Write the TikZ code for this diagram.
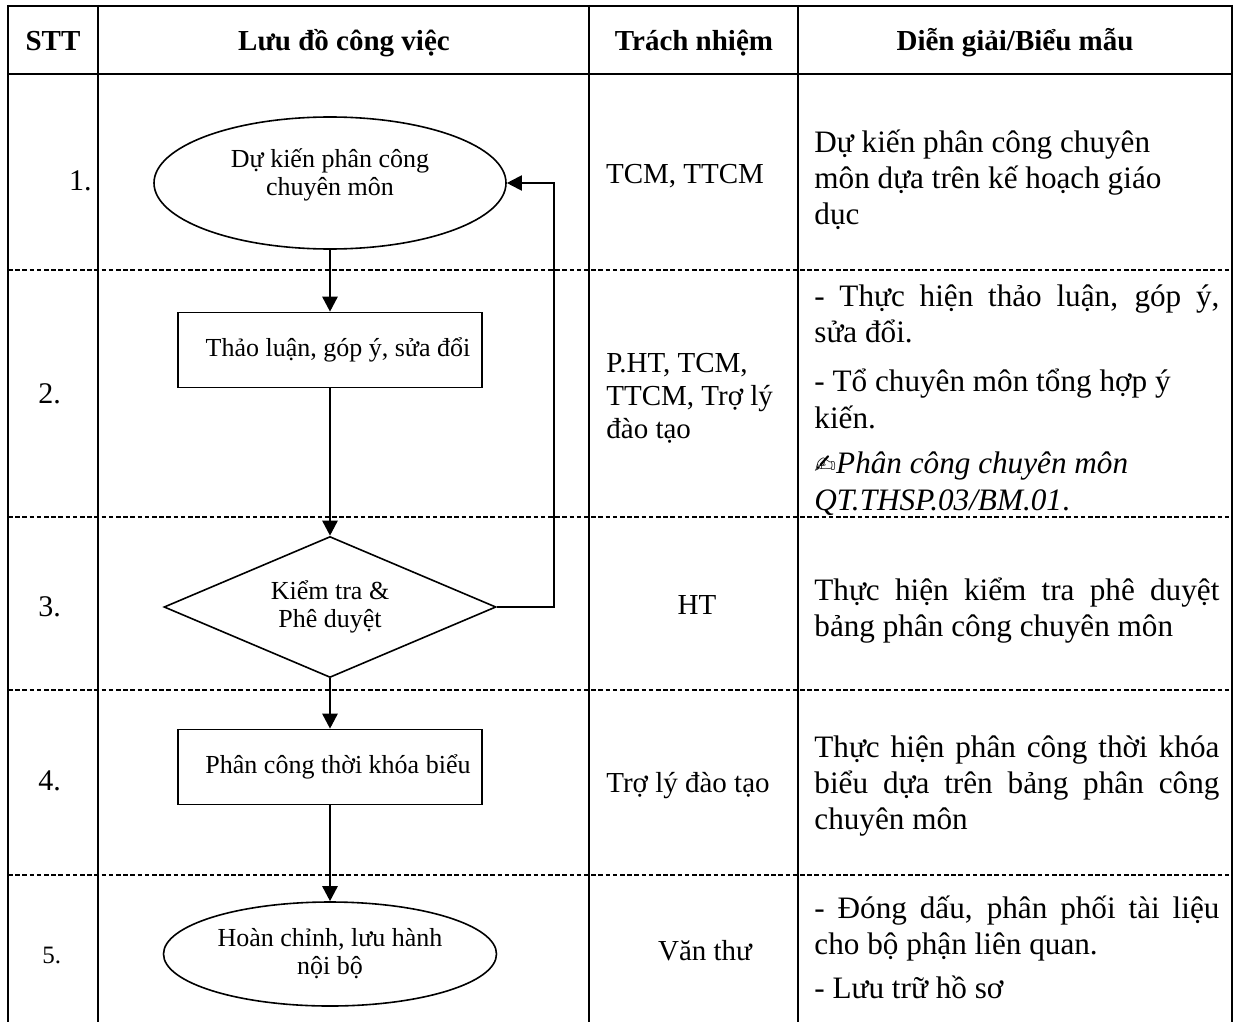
\documentclass[tikz,border=0pt]{standalone}
\usepackage{fontspec}
\setmainfont{Liberation Serif}
\newfontfamily\symfont{DejaVu Sans}
\usetikzlibrary{shapes.geometric,arrows.meta}
\newlength\colw
\setlength\colw{202.5pt}
\newcommand{\jl}[1]{\makebox[\colw][s]{#1}}

\begin{document}
\begin{tikzpicture}[x=0.5pt,y=-0.5pt,
    rule/.style={line width=1.3pt},
    grid/.style={line width=0.6pt},
    sep/.style={line width=1.1pt, dash pattern=on 2.3pt off 1.3pt},
    flowtext/.style={font=\fontsize{13}{14}\selectfont},
    box/.style={flowtext, draw, line width=0.8pt, minimum width=152pt, minimum height=37.5pt},
    oval/.style={flowtext, draw, ellipse, line width=0.8pt, align=center, inner sep=0pt},
    dia/.style={flowtext, draw, diamond, shape aspect=2.35, line width=0.8pt, align=center, inner sep=0pt},
    flow/.style={line width=1.3pt, -{Triangle[length=7.5pt,width=7.5pt]}},
    head/.style={anchor=base, font=\fontsize{14.5}{17}\selectfont\bfseries},
    num/.style={inner sep=0pt, font=\fontsize{15}{18}\selectfont},
    resp/.style={font=\fontsize{14.5}{16.5}\selectfont},
    desc/.style={anchor=base west, inner sep=0pt, text width=\colw, align=justify, font=\fontsize{15.6}{18.2}\selectfont}]

\useasboundingbox (0,0) rectangle (1235,1022);

    \draw[rule] (8,6) -- (1232,6);
    \draw[rule] (8,74) -- (1232,74);
    \foreach \y in {270,517,690,875}
        \draw[sep] (8,\y) -- (1232,\y);
    \draw[line width=0.9pt] (8,5) -- (8,1022);
    \foreach \x in {98,589,798,1232}
        \draw[grid] (\x,5) -- (\x,1022);

    \node[head] (h1) at (53,51) {STT};
    \node[head] (h2) at (344,51) {Lưu đồ công việc};
    \node[head] (h3) at (694,51) {Trách nhiệm};
    \node[head] (h4) at (1015,51) {Diễn giải/Biểu mẫu};

    \node[oval, minimum width=176pt, minimum height=66pt,
          label={[flowtext, align=center, yshift=4pt]center:{Dự kiến phân công\\chuyên môn}}] (s1) at (330,183) {};
    \node[box] (s2) at (330,350) {\hspace*{8pt}Thảo luận, góp ý, sửa đổi};
    \node[dia, minimum width=166pt, minimum height=70.5pt] (s3) at (330,607) {Kiểm tra \&\\Phê duyệt};
    \node[box] (s4) at (330,767) {\hspace*{8pt}Phân công thời khóa biểu};
    \node[oval, minimum width=166.5pt, minimum height=52pt] (s5) at (330,954) {Hoàn chỉnh, lưu hành\\nội bộ};
    \coordinate (back) at (554,183);

    \draw[flow] (s1) -- (s2);
    \draw[flow] (s2) -- (s3);
    \draw[flow] (s3) -- (s4);
    \draw[flow] (s4) -- (s5);
    \draw[flow, line width=1pt] (s3.east) -| (back) -- (s1.east);

    \node[num, anchor=base east] (n1) at (92,190) {1.};
    \node[num, anchor=base west] (n2) at (38,403) {2.};
    \node[num, anchor=base west] (n3) at (38,616) {3.};
    \node[num, anchor=base west] (n4) at (38,790) {4.};
    \node[num, anchor=base west, font=\fontsize{12.5}{14}\selectfont] (n5) at (42,963) {5.};

    \node[resp, anchor=base] (t1) at (685,183) {TCM, TTCM};
    \node[resp, anchor=base west, inner sep=0pt, text width=95pt, align=justify] (t2) at (606,372) {P.HT, TCM,\\TTCM, Trợ lý\\đào tạo};
    \node[resp, anchor=base] (t3) at (697,614) {HT};
    \node[resp, anchor=base] (t4) at (688,792) {Trợ lý đào tạo};
    \node[resp, anchor=base] (t5) at (705,960) {Văn thư};

    \node[desc] (g1) at (814,152) {Dự kiến phân công chuyên\\môn dựa trên kế hoạch giáo\\dục};
    \node[desc] (g2) at (814,306) {\jl{- Thực hiện thảo luận, góp ý,}\\sửa đổi.\\[6.5pt]- Tổ chuyên môn tổng hợp ý\\kiến.\\[4.5pt]{\symfont\fontsize{13}{18}\selectfont ✍}\textit{Phân công chuyên môn}\\\textit{QT.THSP.03/BM.01}.};
    \node[desc] (g3) at (814,600) {\jl{Thực hiện kiểm tra phê duyệt}\\bảng phân công chuyên môn};
    \node[desc] (g4) at (814,757) {\jl{Thực hiện phân công thời khóa}\\\jl{biểu dựa trên bảng phân công}\\chuyên môn};
    \node[desc] (g5) at (814,918) {\jl{- Đóng dấu, phân phối tài liệu}\\cho bộ phận liên quan.\\[4pt]- Lưu trữ hồ sơ};
\end{tikzpicture}
\end{document}
